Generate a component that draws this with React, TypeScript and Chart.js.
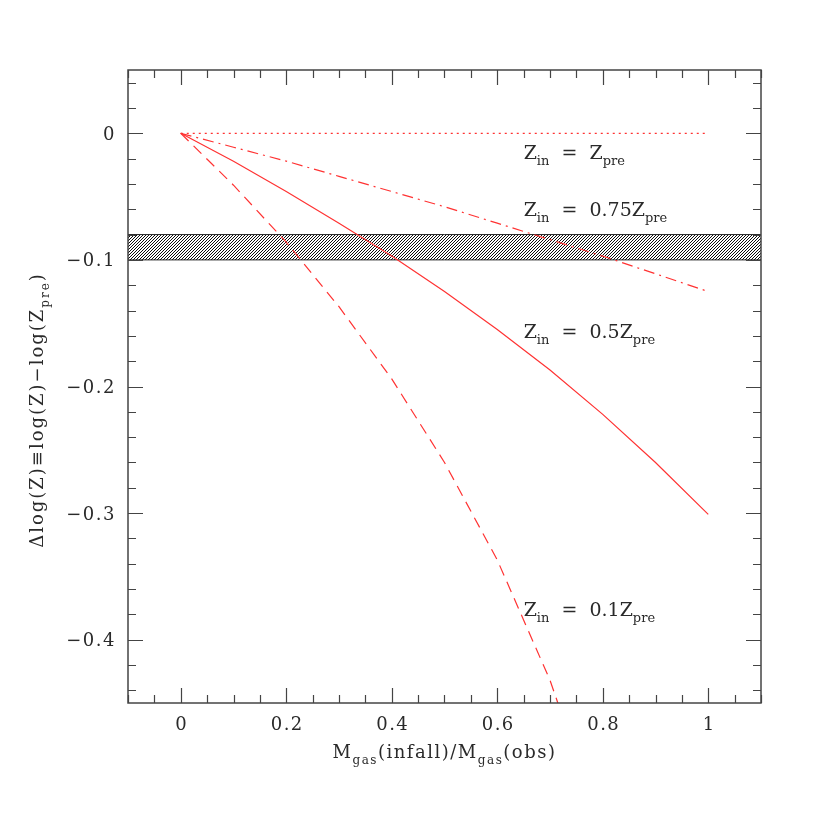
import React, { useEffect, useRef } from 'react';
import { Chart, registerables } from 'chart.js';

Chart.register(...registerables);

// ---- data ----
const infallFraction = [0, 0.1, 0.2, 0.3, 0.4, 0.5, 0.6, 0.7, 0.8, 0.9, 1.0];
const dlogZ_in100 = [0, 0, 0, 0, 0, 0, 0, 0, 0, 0, 0];
const dlogZ_in075 = [0, -0.011, -0.022, -0.034, -0.046, -0.058, -0.071, -0.084, -0.097, -0.111, -0.125];
const dlogZ_in050 = [0, -0.022, -0.046, -0.071, -0.097, -0.125, -0.155, -0.187, -0.222, -0.26, -0.301];
const infallFraction01 = [0, 0.1, 0.2, 0.3, 0.4, 0.5, 0.6, 0.7, 0.8];
const dlogZ_in010 = [0, -0.041, -0.086, -0.137, -0.194, -0.26, -0.337, -0.432, -0.553];

const bandX = [-0.1, 1.1];
const bandUpper = [-0.08, -0.08];
const bandLower = [-0.1, -0.1];

const xMajorTicks = [0, 0.2, 0.4, 0.6, 0.8, 1];
const xTickLabels = ['0', '0.2', '0.4', '0.6', '0.8', '1'];
const yMajorTicks = [0, -0.1, -0.2, -0.3, -0.4];
const yTickLabels = ['0', '\u22120.1', '\u22120.2', '\u22120.3', '\u22120.4'];

const curveLabels = ['Z_{in}  =  Z_{pre}', 'Z_{in}  =  0.75Z_{pre}', 'Z_{in}  =  0.5Z_{pre}', 'Z_{in}  =  0.1Z_{pre}'];
const curveLabelX = [0.65, 0.65, 0.65, 0.65];
const curveLabelY = [-0.0205, -0.0655, -0.1615, -0.3815];

const xTitle = 'M_{gas}(infall)/M_{gas}(obs)';
const yTitle = '\u0394log(Z)\u2261log(Z)\u2212log(Z_{pre})';

const X_MIN = -0.1, X_MAX = 1.1, Y_MIN = -0.45, Y_MAX = 0.05;

const FONT = '"DejaVu Serif", "Liberation Serif", serif';
const RED = 'rgb(255,50,50)';
const TEXT = '#2a2a2a';

const zip = (xs: number[], ys: number[]) => ys.map((y, i) => ({ x: xs[i], y }));

type Part = { t: string; sub: boolean };
function parseRich(s: string): Part[] {
  const parts: Part[] = [];
  const re = /_\{([^}]*)\}/g;
  let last = 0;
  let m: RegExpExecArray | null;
  while ((m = re.exec(s))) {
    if (m.index > last) parts.push({ t: s.slice(last, m.index), sub: false });
    parts.push({ t: m[1], sub: true });
    last = m.index + m[0].length;
  }
  if (last < s.length) parts.push({ t: s.slice(last), sub: false });
  return parts;
}

function richWidth(ctx: CanvasRenderingContext2D, parts: Part[], size: number, subSize: number) {
  let w = 0;
  for (const p of parts) {
    ctx.font = `${p.sub ? subSize : size}px ${FONT}`;
    w += ctx.measureText(p.t).width;
  }
  return w;
}

function drawRich(ctx: CanvasRenderingContext2D, s: string, x: number, y: number, size: number, subSize: number, subDrop: number, align: 'left' | 'center' = 'left', spacing = 0) {
  const parts = parseRich(s);
  (ctx as any).letterSpacing = `${spacing}px`;
  let cx = x;
  if (align === 'center') cx = x - richWidth(ctx, parts, size, subSize) / 2;
  ctx.textAlign = 'left';
  ctx.textBaseline = 'alphabetic';
  for (const p of parts) {
    ctx.font = `${p.sub ? subSize : size}px ${FONT}`;
    ctx.fillText(p.t, cx, y + (p.sub ? subDrop : 0));
    cx += ctx.measureText(p.t).width;
  }
  (ctx as any).letterSpacing = '0px';
}

function makeHatch(ctx: CanvasRenderingContext2D) {
  const c = document.createElement('canvas');
  c.width = 3;
  c.height = 3;
  const g = c.getContext('2d')!;
  g.strokeStyle = 'rgba(0,0,0,0.95)';
  g.lineWidth = 1;
  g.beginPath();
  g.moveTo(0, 3); g.lineTo(3, 0);
  g.moveTo(-1, 1); g.lineTo(1, -1);
  g.moveTo(2, 4); g.lineTo(4, 2);
  g.stroke();
  return ctx.createPattern(c, 'repeat')!;
}

const framePlugin = {
  id: 'frame',
  afterDraw(chart: any) {
    const { ctx, chartArea: a, scales } = chart;
    const xs = scales.x, ys = scales.y;
    ctx.save();
    // border
    ctx.strokeStyle = '#444';
    ctx.lineWidth = 1.5;
    ctx.strokeRect(a.left, a.top, a.right - a.left, a.bottom - a.top);

    // ticks
    ctx.lineWidth = 1.2;
    ctx.beginPath();
    const major = 15, minor = 8;
    for (let i = -2; i <= 22; i++) {
      const v = i * 0.05;
      if (v < X_MIN - 1e-9 || v > X_MAX + 1e-9) continue;
      const isMajor = xMajorTicks.some((t) => Math.abs(t - v) < 1e-9);
      const L = isMajor ? major : minor;
      const px = Math.round(xs.getPixelForValue(v)) + 0.5;
      ctx.moveTo(px, a.bottom); ctx.lineTo(px, a.bottom - L);
      ctx.moveTo(px, a.top); ctx.lineTo(px, a.top + L);
    }
    for (let i = -23; i <= 3; i++) {
      const v = i * 0.02;
      if (v < Y_MIN - 1e-9 || v > Y_MAX + 1e-9) continue;
      const isMajor = yMajorTicks.some((t) => Math.abs(t - v) < 1e-9);
      const L = isMajor ? major : minor;
      const py = Math.round(ys.getPixelForValue(v)) + 0.5;
      ctx.moveTo(a.left, py); ctx.lineTo(a.left + L, py);
      ctx.moveTo(a.right, py); ctx.lineTo(a.right - L, py);
    }
    ctx.stroke();

    // tick labels
    ctx.fillStyle = TEXT;
    ctx.font = `18px ${FONT}`;
    (ctx as any).letterSpacing = '1.5px';
    ctx.textBaseline = 'alphabetic';
    ctx.textAlign = 'center';
    xMajorTicks.forEach((v, i) => {
      ctx.fillText(xTickLabels[i], xs.getPixelForValue(v) + 1, a.bottom + 27);
    });
    ctx.textAlign = 'right';
    yMajorTicks.forEach((v, i) => {
      ctx.fillText(yTickLabels[i], a.left - 12, ys.getPixelForValue(v) + 6.5);
    });
    (ctx as any).letterSpacing = '0px';

    // axis titles
    drawRich(ctx, xTitle, (a.left + a.right) / 2 + 0, a.bottom + 55, 18, 12, 6, 'center', 1.5);
    ctx.save();
    ctx.translate(43, 410);
    ctx.rotate(-Math.PI / 2);
    drawRich(ctx, yTitle, 0, 0, 18, 12, 6, 'center', 2);
    ctx.restore();

    // curve labels
    curveLabels.forEach((s, i) => {
      drawRich(ctx, s, xs.getPixelForValue(curveLabelX[i]), ys.getPixelForValue(curveLabelY[i]), 19, 13, 6);
    });
    ctx.restore();
  },
};

export default function App() {
  const ref = useRef<HTMLCanvasElement>(null);
  useEffect(() => {
    document.body.style.margin = '0';
    const canvas = ref.current!;
    const ctx = canvas.getContext('2d')!;
    const hatch = makeHatch(ctx);
    const line = (data: any, dash: number[]) => ({
      data,
      borderColor: RED,
      borderWidth: 1.2,
      borderDash: dash,
      pointRadius: 0,
      fill: false,
      tension: 0,
    });
    const chart = new Chart(ctx, {
      type: 'line',
      data: {
        datasets: [
          line(zip(infallFraction, dlogZ_in100), [2, 4]),
          line(zip(infallFraction, dlogZ_in075), [11, 5, 2, 5]),
          line(zip(infallFraction, dlogZ_in050), []),
          line(zip(infallFraction01, dlogZ_in010), [11, 7]),
          {
            data: zip(bandX, bandUpper),
            borderColor: '#222',
            borderWidth: 1,
            pointRadius: 0,
            fill: false,
          },
          {
            data: zip(bandX, bandLower),
            borderColor: '#222',
            borderWidth: 1,
            pointRadius: 0,
            fill: '-1',
            backgroundColor: hatch,
          },
        ] as any,
      },
      options: {
        animation: false,
        responsive: false,
        layout: { padding: { left: 128, right: 69, top: 70, bottom: 127 } },
        plugins: { legend: { display: false }, tooltip: { enabled: false } },
        scales: {
          x: { type: 'linear', min: X_MIN, max: X_MAX, display: false },
          y: { type: 'linear', min: Y_MIN, max: Y_MAX, display: false },
        },
      },
      plugins: [framePlugin],
    });
    return () => chart.destroy();
  }, []);
  return <canvas ref={ref} width={830} height={830} style={{ display: 'block' }} />;
}
